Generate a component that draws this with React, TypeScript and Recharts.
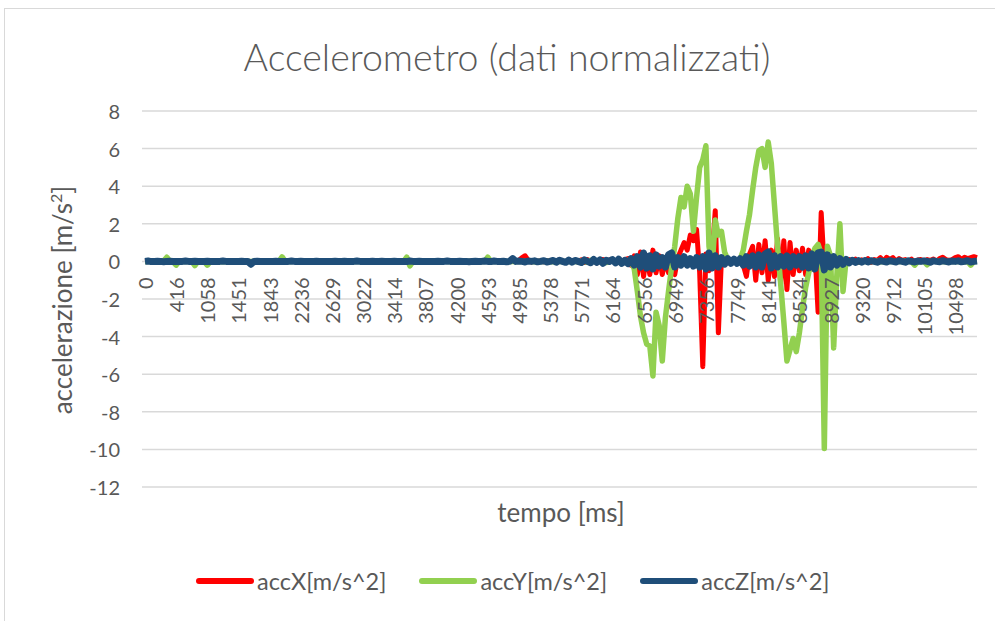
import React from 'react';
import { LineChart, Line, XAxis, YAxis, CartesianGrid, Legend } from 'recharts';

// Sample timestamps printed on the time axis, one every SAMPLES_PER_LABEL samples
const TICK_LABELS = [
  '0', '416', '1058', '1451', '1843', '2236', '2629', '3022', '3414', '3807',
  '4200', '4593', '4985', '5378', '5771', '6164', '6556', '6949', '7356', '7749',
  '8141', '8534', '8927', '9320', '9712', '10105', '10498',
];
const SAMPLES_PER_LABEL = 10;

// normalised acceleration samples [m/s^2], ten samples per row
const accX = [
  0, 0.01, 0, -0.01, 0, 0.02, 0, 0, -0.01, 0,
  0.01, 0, 0, 0.02, 0, -0.01, 0, 0.01, 0, 0,
  0, -0.01, 0, 0.01, 0, 0, 0.02, 0, -0.01, 0,
  0.01, 0, 0, 0, -0.02, 0, 0.01, 0, 0, 0.01,
  0, 0, 0.01, 0, 0, -0.01, 0, 0.02, 0, 0,
  -0.01, 0, 0, 0.01, 0, 0, 0.01, 0, -0.02, 0,
  0, 0.01, 0, 0, 0.02, 0, 0, -0.01, 0, 0.01,
  0, 0, -0.01, 0, 0.01, 0, 0.02, 0, 0, -0.01,
  0.01, 0, 0, 0.02, 0, -0.01, 0, 0, 0.01, 0,
  0, 0.02, 0, 0, -0.01, 0, 0.01, 0, 0, 0.02,
  0, -0.01, 0, 0.01, 0, 0.03, 0, -0.02, 0, 0.01,
  0.02, 0, -0.01, 0.03, 0, 0.02, -0.02, 0, 0.04, 0,
  0.05, 0.2, 0.3, 0.05, -0.03, 0.04, 0, 0.03, -0.02, 0.05,
  0, 0.06, -0.04, 0.08, 0, -0.05, 0.1, 0, 0.06, -0.04,
  0.08, -0.05, 0.1, 0, 0.12, -0.08, 0.06, 0.1, -0.05, 0.08,
  0.05, -0.05, 0.12, 0, 0.1, 0.15, -0.2, 0.3, -0.7, 0.5,
  -0.8, 0.3, -0.7, 0.6, -0.6, 0.3, -0.7, 0.1, -0.6, -0.2,
  -0.7, 0.2, 0.6, 1.0, 0.6, 1.4, 1.1, 1.7, -0.6, -5.6,
  0.4, -0.5, 0.3, 2.7, -3.8, 0.2, -0.1, 0.1, 0, 0.05,
  -0.05, 0.1, -0.2, -0.8, 0.4, 0.8, -1.0, 0.9, -0.6, 1.1,
  -1.0, 0.6, -0.8, 1.2, -1.2, 1.1, -1.5, 1.0, -0.7, 0.6,
  -0.5, 0.7, -0.7, 0.6, -0.4, 0.5, -2.7, 2.6, -0.4, 0.3,
  -0.3, 0.2, -0.1, 0.12, 0.05, -0.05, 0.1, 0, 0.12, -0.05,
  0.08, 0, 0.15, -0.05, 0.1, 0.05, 0.2, 0, 0.22, 0.1,
  0.2, 0, 0.15, 0.05, 0.1, 0, 0.12, -0.05, 0.08, 0.1,
  0, 0.1, 0.05, 0.12, 0, 0.15, 0.22, 0.1, 0.05, 0.1,
  0.2, 0.25, 0.1, 0.22, 0.15, 0.2, 0.25, 0.2,
];

const accY = [
  0, 0, 0.02, 0, 0.01, 0, 0.03, 0.22, 0, -0.02,
  -0.2, 0.01, 0, 0, -0.01, 0, -0.22, 0, 0.02, 0,
  -0.2, 0, 0.01, 0, 0, -0.02, 0, 0.01, 0, 0,
  0, 0.02, 0, -0.01, 0, 0, 0.01, 0, 0, -0.01,
  0, 0.01, 0, 0, 0.24, 0, -0.01, 0, 0.02, 0,
  0, 0, -0.02, 0, 0.01, 0, 0, 0, 0.01, 0,
  -0.01, 0, 0, 0.02, 0, 0, -0.01, 0, 0, 0.01,
  0, 0, 0.01, 0, 0, -0.02, 0, 0, 0.01, 0,
  0, 0.01, 0, 0, 0.22, -0.24, 0, 0.01, 0, 0,
  0.01, 0, 0, -0.01, 0, 0, 0.02, 0, 0, 0,
  0, -0.01, 0, 0, 0.01, 0, 0, 0.02, 0, 0,
  0.22, 0, -0.01, 0, 0, 0.02, 0, 0, -0.01, 0,
  0, 0.01, 0, 0.03, 0, -0.02, 0, 0.01, 0, 0.02,
  0, -0.02, 0.03, 0, 0.01, -0.03, 0, 0.04, 0, -0.02,
  0.03, 0, -0.05, 0.06, 0, -0.04, 0.05, 0, -0.06, 0.04,
  0.04, -0.03, 0.05, 0, -0.04, 0.06, 0, -0.4, -1.6, -2.9,
  -3.8, -4.4, -4.5, -6.1, -2.7, -3.4, -5.3, -3.0, -1.6, -0.3,
  0.8, 2.3, 3.4, 2.9, 4.0, 3.6, 1.6, 3.4, 5.0, 5.4,
  6.15, 0.8, -0.3, 2.2, 1.4, 1.6, 0.5, 0.1, 0.02, -0.05,
  0.04, 0.1, 0.6, 1.6, 2.5, 3.8, 5.0, 5.9, 6.0, 5.0,
  6.35, 5.2, 3.0, 0.8, -1.2, -3.2, -5.3, -4.7, -4.1, -4.8,
  -3.8, -2.5, -1.4, -0.6, 0.3, 0.7, 0.9, 0.4, -9.95, 0.8,
  0.3, -4.6, -0.8, 2.0, -1.6, 0.1, -0.05, 0.04, 0, -0.03,
  0.02, 0, -0.03, 0.01, 0, 0.02, -0.02, 0, 0.01, 0,
  0, -0.02, 0.01, 0, 0.02, 0, -0.01, -0.2, 0, 0.01,
  0, -0.18, 0, 0.02, 0, 0.01, 0, -0.02, 0, 0,
  0.01, 0, 0, -0.02, 0, -0.2, 0, 0.01,
];

const accZ = [
  0, 0.02, -0.01, 0, 0.01, 0, -0.02, 0, 0.01, 0,
  0, -0.01, 0, 0.02, 0, 0, 0.01, -0.01, 0, 0,
  0.01, 0, 0, -0.01, 0, 0.02, 0, 0, -0.01, 0,
  0, 0.01, 0, 0, -0.15, 0, 0.01, 0, 0, -0.01,
  0, 0, 0.01, 0, -0.01, 0, 0, 0.02, 0, 0,
  0.01, 0, 0, -0.01, 0, 0.01, 0, 0, 0, -0.01,
  0, 0.01, 0, 0, 0.01, 0, -0.01, 0, 0.02, 0,
  0, -0.01, 0, 0.01, 0, 0, 0.01, 0, -0.01, 0,
  0.01, 0, 0, 0, -0.01, 0.02, 0, 0, 0.01, 0,
  0, 0, -0.01, 0, 0.01, 0, 0, 0.02, 0, -0.01,
  0, 0.01, 0, 0, -0.02, 0, 0.01, 0, 0, 0.02,
  0, -0.01, 0.02, 0, 0, 0.01, -0.02, 0, 0.15, 0,
  0.02, 0, -0.03, 0.02, 0, 0.03, -0.02, 0, 0.04, -0.03,
  0, 0.05, -0.04, 0.06, 0, -0.05, 0.07, -0.04, 0.05, 0,
  -0.06, 0.08, 0, -0.07, 0.1, -0.05, 0.08, -0.1, 0.06, 0,
  0.1, -0.08, 0.12, -0.1, 0.05, -0.12, 0.15, -0.2, 0.25, -0.3,
  0.45, -0.35, 0.3, -0.4, 0.35, -0.25, 0.2, -0.3, 0.35, 0.45,
  -0.3, 0.2, -0.2, 0.25, -0.2, 0.15, -0.25, 0.2, -0.3, 0.25,
  -0.4, 0.45, -0.35, 0.3, -0.3, 0.2, -0.15, 0.15, -0.1, 0.12,
  -0.1, 0.15, -0.2, 0.25, -0.25, 0.3, -0.3, 0.35, -0.3, 0.4,
  0.5, -0.35, 0.3, -0.3, 0.25, -0.25, 0.3, -0.3, 0.25, -0.2,
  0.25, -0.3, 0.3, -0.35, 0.4, -0.4, 0.45, 0.5, -0.45, 0.35,
  -0.3, 0.25, -0.2, 0.15, -0.15, 0.1, -0.08, 0.06, -0.05, 0.04,
  -0.04, 0.05, -0.03, 0.04, 0, -0.04, 0.03, 0, -0.03, 0.04,
  0, -0.03, 0.04, 0, -0.04, 0.03, 0, -0.03, 0.02, 0,
  0.03, 0, -0.04, 0.03, 0, -0.02, 0.04, 0, -0.03, 0.02,
  0, 0.03, -0.02, 0, 0.04, -0.03, 0, 0.02,
];

const Y_TICKS = [-12, -10, -8, -6, -4, -2, 0, 2, 4, 6, 8];

const SERIES = [
  { key: 'accX', name: 'accX[m/s^2]', color: '#FF0000', width: 5 },
  { key: 'accY', name: 'accY[m/s^2]', color: '#92D050', width: 5.5 },
  { key: 'accZ', name: 'accZ[m/s^2]', color: '#1F4E79', width: 7 },
];

const data = accX.map((x, i) => ({ i, accX: x, accY: accY[i], accZ: accZ[i] }));
const xTicks = TICK_LABELS.map((_, k) => k * SAMPLES_PER_LABEL);

const W = 995;
const H = 621;
const FONT = 'Lato, "Open Sans", sans-serif';
const TEXT = '#595959';

// plot rectangle: left 142, top 111, right 977, bottom 487
const PLOT_LEFT = 142;
const PLOT_TOP = 111;
const PLOT_BOTTOM = 487;
const Y_AXIS_W = 60;
const X_AXIS_H = 20;
const LEGEND_H = 30;
const MARGIN = {
  top: PLOT_TOP,
  right: W - 977,
  bottom: H - PLOT_BOTTOM - X_AXIS_H - LEGEND_H,
  left: PLOT_LEFT - Y_AXIS_W,
};
const Y_MIN = Y_TICKS[0];
const Y_MAX = Y_TICKS[Y_TICKS.length - 1];
// the category axis crosses the value axis at 0
const ZERO_Y = PLOT_TOP + ((PLOT_BOTTOM - PLOT_TOP) * Y_MAX) / (Y_MAX - Y_MIN);

const TimeTick = (props: any) => {
  const { x, payload } = props;
  const y = ZERO_Y + 16;
  return (
    <text
      x={x}
      y={y}
      transform={`rotate(-90, ${x}, ${y})`}
      textAnchor="end"
      dominantBaseline="central"
      fontSize={20}
      fontFamily={FONT}
      fill={TEXT}
    >
      {TICK_LABELS[payload.value / SAMPLES_PER_LABEL]}
    </text>
  );
};

const ValueTick = (props: any) => {
  const { y, payload } = props;
  return (
    <text
      x={PLOT_LEFT - 22}
      y={y}
      textAnchor="end"
      dominantBaseline="central"
      fontSize={20}
      fontFamily={FONT}
      fill={TEXT}
    >
      {payload.value}
    </text>
  );
};

const renderLegend = () => (
  <div style={{ display: 'flex', alignItems: 'center', height: LEGEND_H, paddingLeft: 195 }}>
    {SERIES.map((s) => (
      <div key={s.key} style={{ display: 'flex', alignItems: 'center', marginRight: 32 }}>
        <svg width={60} height={10} style={{ marginRight: 2 }}>
          <line x1={4} y1={5} x2={56} y2={5} stroke={s.color} strokeWidth={6} strokeLinecap="round" />
        </svg>
        <span style={{ fontSize: 23.5, color: TEXT, fontFamily: FONT, whiteSpace: 'nowrap' }}>{s.name}</span>
      </div>
    ))}
  </div>
);

export default function App() {
  return (
    <div style={{ position: 'fixed', left: 0, top: 0, width: W, height: H, overflow: 'hidden', background: '#fff' }}>
      <div
        style={{
          position: 'absolute',
          left: 4,
          top: 8,
          width: W + 20,
          height: H + 20,
          border: '1px solid #d9d9d9',
        }}
      />
      <div
        style={{
          position: 'absolute',
          left: 507,
          top: 56,
          transform: 'translate(-50%, -50%)',
          fontFamily: FONT,
          fontWeight: 300,
          fontSize: 37.5,
          color: TEXT,
          whiteSpace: 'nowrap',
        }}
      >
        Accelerometro (dati normalizzati)
      </div>
      <div
        style={{
          position: 'absolute',
          left: 62,
          top: 300,
          transform: 'translate(-50%, -50%) rotate(-90deg)',
          fontFamily: FONT,
          fontSize: 26,
          color: TEXT,
          whiteSpace: 'nowrap',
        }}
      >
        accelerazione [m/s<sup style={{ fontSize: 16 }}>2</sup>]
      </div>
      <div
        style={{
          position: 'absolute',
          left: 561,
          top: 512,
          transform: 'translate(-50%, -50%)',
          fontFamily: FONT,
          fontSize: 26,
          color: TEXT,
          whiteSpace: 'nowrap',
        }}
      >
        tempo [ms]
      </div>
      <div style={{ position: 'absolute', left: 0, top: 0 }}>
        <LineChart width={W} height={H} data={data} margin={MARGIN}>
          <CartesianGrid vertical={false} stroke="#d9d9d9" strokeWidth={1.5} />
          <XAxis
            dataKey="i"
            type="category"
            ticks={xTicks}
            interval={0}
            height={X_AXIS_H}
            axisLine={false}
            tickLine={false}
            padding={{ left: 3, right: 0 }}
            tick={TimeTick}
          />
          <YAxis
            type="number"
            domain={[Y_MIN, Y_MAX]}
            ticks={Y_TICKS}
            interval={0}
            width={Y_AXIS_W}
            axisLine={false}
            tickLine={false}
            tick={ValueTick}
          />
          <Legend
            verticalAlign="bottom"
            content={renderLegend}
            wrapperStyle={{ top: 581 - LEGEND_H / 2, bottom: 'auto', left: 0, width: W, height: LEGEND_H }}
          />
          {SERIES.map((s) => (
            <Line
              key={s.key}
              type="linear"
              dataKey={s.key}
              name={s.name}
              stroke={s.color}
              strokeWidth={s.width}
              strokeLinejoin="round"
              dot={false}
              activeDot={false}
              isAnimationActive={false}
            />
          ))}
        </LineChart>
      </div>
    </div>
  );
}
